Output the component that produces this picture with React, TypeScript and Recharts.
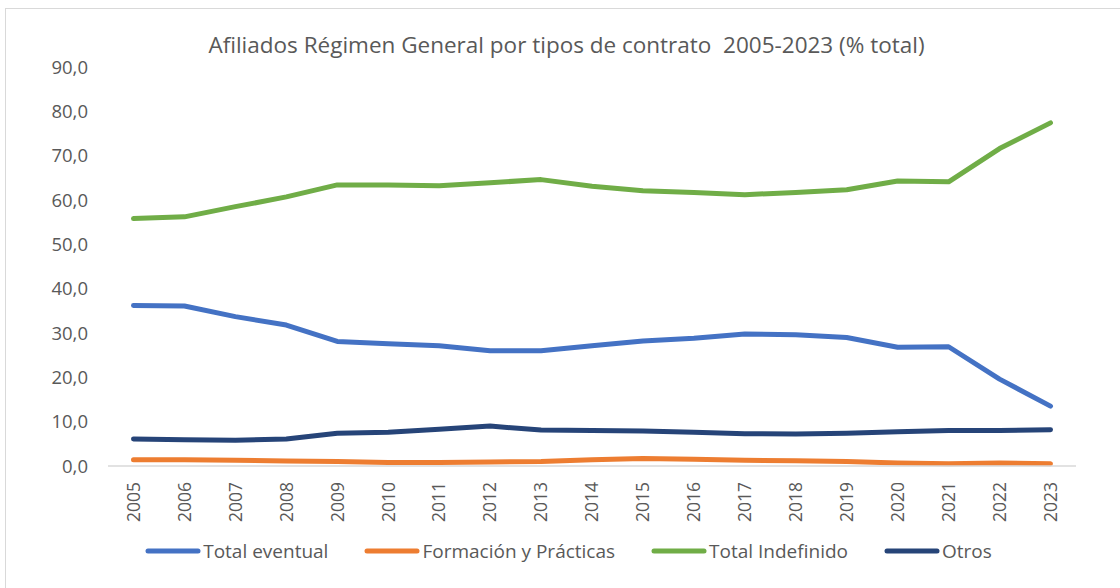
import React from "react";
import { Legend, Line, LineChart, XAxis, YAxis } from "recharts";

const years = [
  "2005", "2006", "2007", "2008", "2009", "2010", "2011", "2012", "2013", "2014",
  "2015", "2016", "2017", "2018", "2019", "2020", "2021", "2022", "2023"
];
const totalEventual = [
  36.2, 36.1, 33.7, 31.8, 28.1, 27.6, 27.1, 26.0, 26.0, 27.1,
  28.2, 28.8, 29.8, 29.6, 29.0, 26.8, 26.9, 19.6, 13.5
];
const formacion = [
  1.4, 1.4, 1.3, 1.1, 1.0, 0.8, 0.8, 0.9, 1.0, 1.4,
  1.7, 1.5, 1.3, 1.2, 1.0, 0.7, 0.5, 0.7, 0.5
];
const totalIndefinido = [
  55.8, 56.2, 58.5, 60.7, 63.4, 63.4, 63.2, 63.9, 64.6, 63.1,
  62.1, 61.7, 61.2, 61.7, 62.3, 64.3, 64.1, 71.6, 77.4
];
const otros = [
  6.1, 5.9, 5.8, 6.1, 7.4, 7.6, 8.3, 9.0, 8.1, 8.0,
  7.9, 7.6, 7.3, 7.2, 7.4, 7.7, 8.0, 8.0, 8.2
];
const yTicks = [0, 10, 20, 30, 40, 50, 60, 70, 80, 90];

const series = [
  { key: "eventual", name: "Total eventual", color: "#4472C4" },
  { key: "formacion", name: "Formación y Prácticas", color: "#ED7D31" },
  { key: "indefinido", name: "Total Indefinido", color: "#70AD47" },
  { key: "otros", name: "Otros", color: "#264478" }
];

const data = years.map((year, i) => ({
  year,
  eventual: totalEventual[i],
  formacion: formacion[i],
  indefinido: totalIndefinido[i],
  otros: otros[i]
}));

const FONT = "'Open Sans', sans-serif";
const TEXT = "#595959";

const fmt = (v: number) => v.toFixed(1).replace(".", ",");

function YearTick({ x, y, payload }: any) {
  return (
    <g transform={`translate(${x},${y})`}>
      <text
        transform="rotate(-90)"
        x={-16}
        y={0}
        dy="0.36em"
        textAnchor="end"
        fill={TEXT}
        fontSize={17.5}
        fontFamily={FONT}
      >
        {payload.value}
      </text>
    </g>
  );
}

function LegendRow() {
  return (
    <div style={{ display: "flex", justifyContent: "center", gap: 36, fontFamily: FONT, fontSize: 19, color: TEXT }}>
      {series.map((s) => (
        <div key={s.key} style={{ display: "flex", alignItems: "center", gap: 2 }}>
          <svg width={56} height={10}>
            <line x1={3} y1={5} x2={53} y2={5} stroke={s.color} strokeWidth={5} strokeLinecap="round" />
          </svg>
          <span>{s.name}</span>
        </div>
      ))}
    </div>
  );
}

export default function App() {
  return (
    <div style={{ position: "absolute", left: 0, top: 0, width: 1120, height: 588, overflow: "hidden", background: "#fff" }}>
      <div style={{ position: "absolute", left: 5, top: 8, width: 1140, height: 600, border: "1px solid #d9d9d9" }} />
      <div
        style={{
          position: "absolute",
          left: 0,
          top: 29,
          width: 1133,
          textAlign: "center",
          fontFamily: FONT,
          fontSize: 22.5,
          color: TEXT,
          whiteSpace: "pre"
        }}
      >
        {"Afiliados Régimen General por tipos de contrato  2005-2023 (% total)"}
      </div>
      <div style={{ position: "absolute", left: 0, top: 0 }}>
        <LineChart width={1120} height={588} data={data} margin={{ top: 67, right: 44, bottom: 0, left: 0 }}>
          <XAxis
            dataKey="year"
            height={122}
            interval={0}
            padding={{ left: 25.5, right: 25.5 }}
            tickLine={false}
            tickSize={0}
            tickMargin={0}
            axisLine={{ stroke: "#d9d9d9", strokeWidth: 1.5 }}
            tick={<YearTick />}
          />
          <YAxis
            width={108}
            domain={[0, 90]}
            ticks={yTicks}
            tickFormatter={fmt}
            axisLine={false}
            tickLine={false}
            tickSize={0}
            tickMargin={20}
            tick={{ fill: TEXT, fontSize: 18.5, fontFamily: FONT }}
          />
          {series.map((s) => (
            <Line
              key={s.key}
              type="linear"
              dataKey={s.key}
              name={s.name}
              stroke={s.color}
              strokeWidth={5}
              strokeLinecap="round"
              strokeLinejoin="round"
              dot={false}
              isAnimationActive={false}
            />
          ))}
          <Legend
            layout="horizontal"
            verticalAlign="middle"
            align="center"
            content={<LegendRow />}
            wrapperStyle={{ left: 0, top: 538, width: 1137 }}
          />
        </LineChart>
      </div>
    </div>
  );
}
